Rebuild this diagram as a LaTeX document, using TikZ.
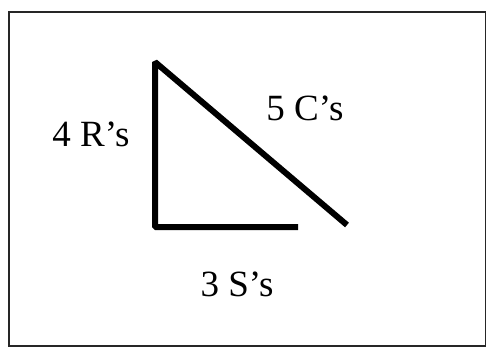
\documentclass[tikz,border=0pt]{standalone}
\usepackage{fontspec}
\setmainfont{Liberation Serif}
\begin{document}
\begin{tikzpicture}[x=1pt,y=-1pt,
  frame/.style={line width=2pt,draw=black!85},
  side/.style={line width=6pt,line join=bevel},
  lbl/.style={font=\fontsize{37}{42}\selectfont,anchor=base,inner sep=0pt}]
\useasboundingbox (0,0) rectangle (486,348);
\draw[frame] (9,12) rectangle (486,346);
\coordinate (top) at (155,62);
\coordinate (corner) at (155,227);
\coordinate (hend) at (298,227);
\coordinate (dend) at (347,225);
\draw[side] (hend) -- (corner) -- (top) -- (dend);
\node[lbl] (r) at (91,146) {4 R’s};
\node[lbl] (c) at (305,120) {5 C’s};
\node[lbl] (s) at (237,296) {3 S’s};
\end{tikzpicture}
\end{document}
